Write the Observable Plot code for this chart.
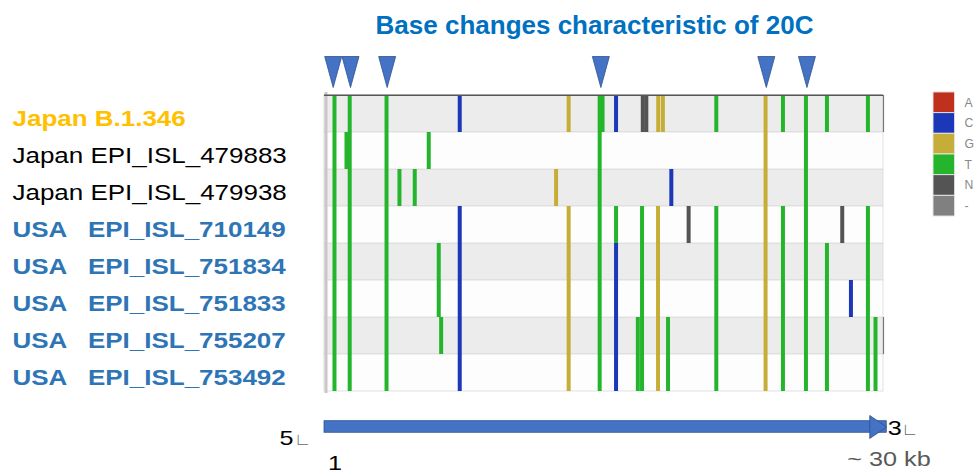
<!DOCTYPE html>
<html><head><meta charset="utf-8">
<script src="https://cdn.jsdelivr.net/npm/d3@7"></script>
<script src="https://cdn.jsdelivr.net/npm/@observablehq/plot@0.6"></script>
<style>
body{margin:0;background:#fff;}
#wrap{position:relative;width:980px;height:473px;overflow:hidden;font-family:"Liberation Sans",Arial,sans-serif;}
#wrap svg{display:block;}
#wrap svg text{white-space:pre;}
#legend{position:absolute;left:933px;top:91px;}
</style></head><body><div id="wrap"><div id="main"></div><div id="arrow"></div><div id="legend"></div></div>
<script>
const FONT = '"Liberation Sans", Arial, sans-serif';
const title = "Base changes characteristic of 20C";
const rows = [
  "Japan B.1.346",
  "Japan EPI_ISL_479883",
  "Japan EPI_ISL_479938",
  "USA   EPI_ISL_710149",
  "USA   EPI_ISL_751834",
  "USA   EPI_ISL_751833",
  "USA   EPI_ISL_755207",
  "USA   EPI_ISL_753492"
];
const bases = ["A", "C", "G", "T", "N", "-"];
const baseColors = ["#c0311d", "#1c37b8", "#c6ad38", "#24b52c", "#545454", "#808080"];
// approximate genome positions of the variant bars
const varPos  = [241, 886, 1059, 3037, 3731, 4552, 5304, 5841, 5970, 6968, 12143, 12819, 14484, 14640, 15364, 15364, 16534, 16760, 16800, 16990, 17630, 17880, 17619, 18156, 18333, 19262, 20748, 23395, 24329, 25564, 26691, 27513, 27980, 28892, 29300];
const varBase = ["T","T","T","T","T","T","T","T","T","C","G","G","T","T","C","T","T","T","N","N","G","G","G","T","C","N","T","G","T","T","T","N","C","T","T"];
const ALL = [0,1,2,3,4,5,6,7], USA6 = [0,3,4,5,6,7];
const varRows = [ALL,[1],ALL,ALL,[2],[2],[1],[4,5],[6],USA6,[2],USA6,ALL,[0],[0,4,5,6,7],[3],[6,7],[3,4,5,6,7],[0],[0],[0],[0],[3,4,5,6,7],[6,7],[2],[3],USA6,ALL,USA6,ALL,[0,4,5,6,7],[3],[5],USA6,[6,7]];
// 20C characteristic sites (triangles)
const triPos = [172, 1101, 3070, 14548, 23434, 25617];
const genomeEnd = 29903;
const xDomain = [-295, 29729];

const variants = varPos.flatMap((p, i) => varRows[i].map(r => ({pos: p, base: varBase[i], row: rows[r]})));
const bw = (405 - 92 - 12) / rows.length;

const invTri = {draw(ctx){ ctx.moveTo(-8.5,-31); ctx.lineTo(8.5,-31); ctx.lineTo(0,0); ctx.closePath(); }};
const rightTri = {draw(ctx){ ctx.moveTo(-17,-11.5); ctx.lineTo(0,0); ctx.lineTo(-17,11.5); ctx.closePath(); }};

const labelOpts = {y: d => d, text: d => d, frameAnchor: "left", textAnchor: "start", lineAnchor: "bottom", dx: -312, dy: 12, fontSize: 22};

const main = Plot.plot({
  width: 980, height: 405, marginLeft: 324, marginRight: 97, marginTop: 92, marginBottom: 12,
  style: {fontFamily: FONT, background: "transparent", overflow: "visible"},
  x: {domain: xDomain, axis: null},
  y: {domain: rows, type: "band", padding: 0, axis: null},
  color: {domain: bases, range: baseColors},
  marks: [
    Plot.cell(rows.filter((d, i) => i % 2 === 0), {y: d => d, fill: "#ececec", stroke: "#d9d9d9", strokeWidth: 0.8}),
    Plot.cell(rows.filter((d, i) => i % 2 === 1), {y: d => d, fill: "#fdfdfd", stroke: "#d9d9d9", strokeWidth: 0.8}),
    Plot.ruleX([xDomain[0]], {stroke: "#c8c8c8", strokeWidth: 3, dx: 1.5}),
    Plot.ruleX([rows[0], rows[6]], {x: () => xDomain[1], y1: d => d, y2: d => d, stroke: "#777", strokeWidth: 1.2}),
    Plot.ruleX(variants, {x: "pos", y1: "row", y2: "row", stroke: "base", strokeWidth: 4}),
    Plot.ruleY([rows[0]], {y: d => d, dy: -bw / 2, stroke: "#555", strokeWidth: 1.5}),
    Plot.dot(triPos, {x: d => d, frameAnchor: "top", dy: -5, symbol: invTri, r: 5, fill: "#4472c4", stroke: "#2f528f", strokeWidth: 0.8}),
    Plot.text([title], {text: d => d, frameAnchor: "top", lineAnchor: "bottom", dx: -9.5, dy: -59, fontSize: 25, fontWeight: "bold", fill: "#0070c0"}),
    Plot.text(rows.slice(0, 1), {...labelOpts, fontWeight: "bold", fill: "#ffc000"}),
    Plot.text(rows.slice(1, 3), {...labelOpts, fill: "#000"}),
    Plot.text(rows.slice(3), {...labelOpts, fontWeight: "bold", fill: "#2e75b6"})
  ]
});

const arrow = Plot.plot({
  width: 980, height: 68, marginLeft: 324, marginRight: 97, marginTop: 0, marginBottom: 0,
  style: {fontFamily: FONT, background: "transparent", overflow: "visible"},
  x: {domain: xDomain, axis: null},
  y: {domain: [0, 1], range: [0, 68], axis: null},
  marks: [
    Plot.rect([genomeEnd], {x1: () => xDomain[0], x2: d => d, y1: 0.231, y2: 0.401, fill: "#4472c4", stroke: "#2f528f", strokeWidth: 0.8}),
    Plot.dot([genomeEnd], {x: d => d, y: 0.316, symbol: rightTri, r: 5, fill: "#4472c4", stroke: "#2f528f", strokeWidth: 0.8}),
    Plot.text(["5"], {x: () => xDomain[0], y: 0.588, text: d => d, textAnchor: "end", lineAnchor: "bottom", dx: -31, fontSize: 21, fill: "#000"}),
    Plot.text(["\u221F"], {x: () => xDomain[0], y: 0.58, text: d => d, textAnchor: "start", lineAnchor: "bottom", dx: -30, fontSize: 17, fill: "#666"}),
    Plot.text(["1"], {x: () => 1, y: 0.95, text: d => d, textAnchor: "start", lineAnchor: "bottom", dx: -2, fontSize: 21, fill: "#000"}),
    Plot.text(["3"], {x: () => genomeEnd, y: 0.44, text: d => d, textAnchor: "start", lineAnchor: "bottom", dx: 1, fontSize: 21, fill: "#000"}),
    Plot.text(["\u221F"], {x: () => genomeEnd, y: 0.435, text: d => d, textAnchor: "start", lineAnchor: "bottom", dx: 15, fontSize: 17, fill: "#666"}),
    Plot.text(["~ 30 kb"], {x: () => genomeEnd, y: 0.897, text: d => d, textAnchor: "end", lineAnchor: "bottom", dx: 44, fontSize: 21, fill: "#595959"})
  ]
});

const legend = Plot.plot({
  width: 50, height: 134, marginLeft: 0, marginRight: 27, marginTop: 0, marginBottom: 0,
  style: {fontFamily: FONT, background: "transparent", overflow: "visible"},
  y: {domain: bases, type: "band", padding: 0, axis: null},
  color: {domain: bases, range: baseColors},
  marks: [
    Plot.cell(bases, {y: d => d, fill: d => d, stroke: "#e6e6e6", strokeWidth: 1}),
    Plot.text(bases, {y: d => d, text: d => d, frameAnchor: "right", textAnchor: "start", dx: 10, fontSize: 13, fill: "#888"})
  ]
});

document.getElementById("main").appendChild(main);
document.getElementById("arrow").appendChild(arrow);
document.getElementById("legend").appendChild(legend);

function stretch(svg, factor, test) {
  svg.querySelectorAll("text").forEach(t => {
    if (test && !test(t.textContent)) return;
    const L = t.getComputedTextLength();
    t.setAttribute("textLength", (L * factor).toFixed(1));
    t.setAttribute("lengthAdjust", "spacingAndGlyphs");
  });
}
stretch(main, 1.18, s => rows.includes(s));
stretch(main, 1.04, s => s === title);
stretch(arrow, 1.2, s => s !== "\u221F");
</script></body></html>
